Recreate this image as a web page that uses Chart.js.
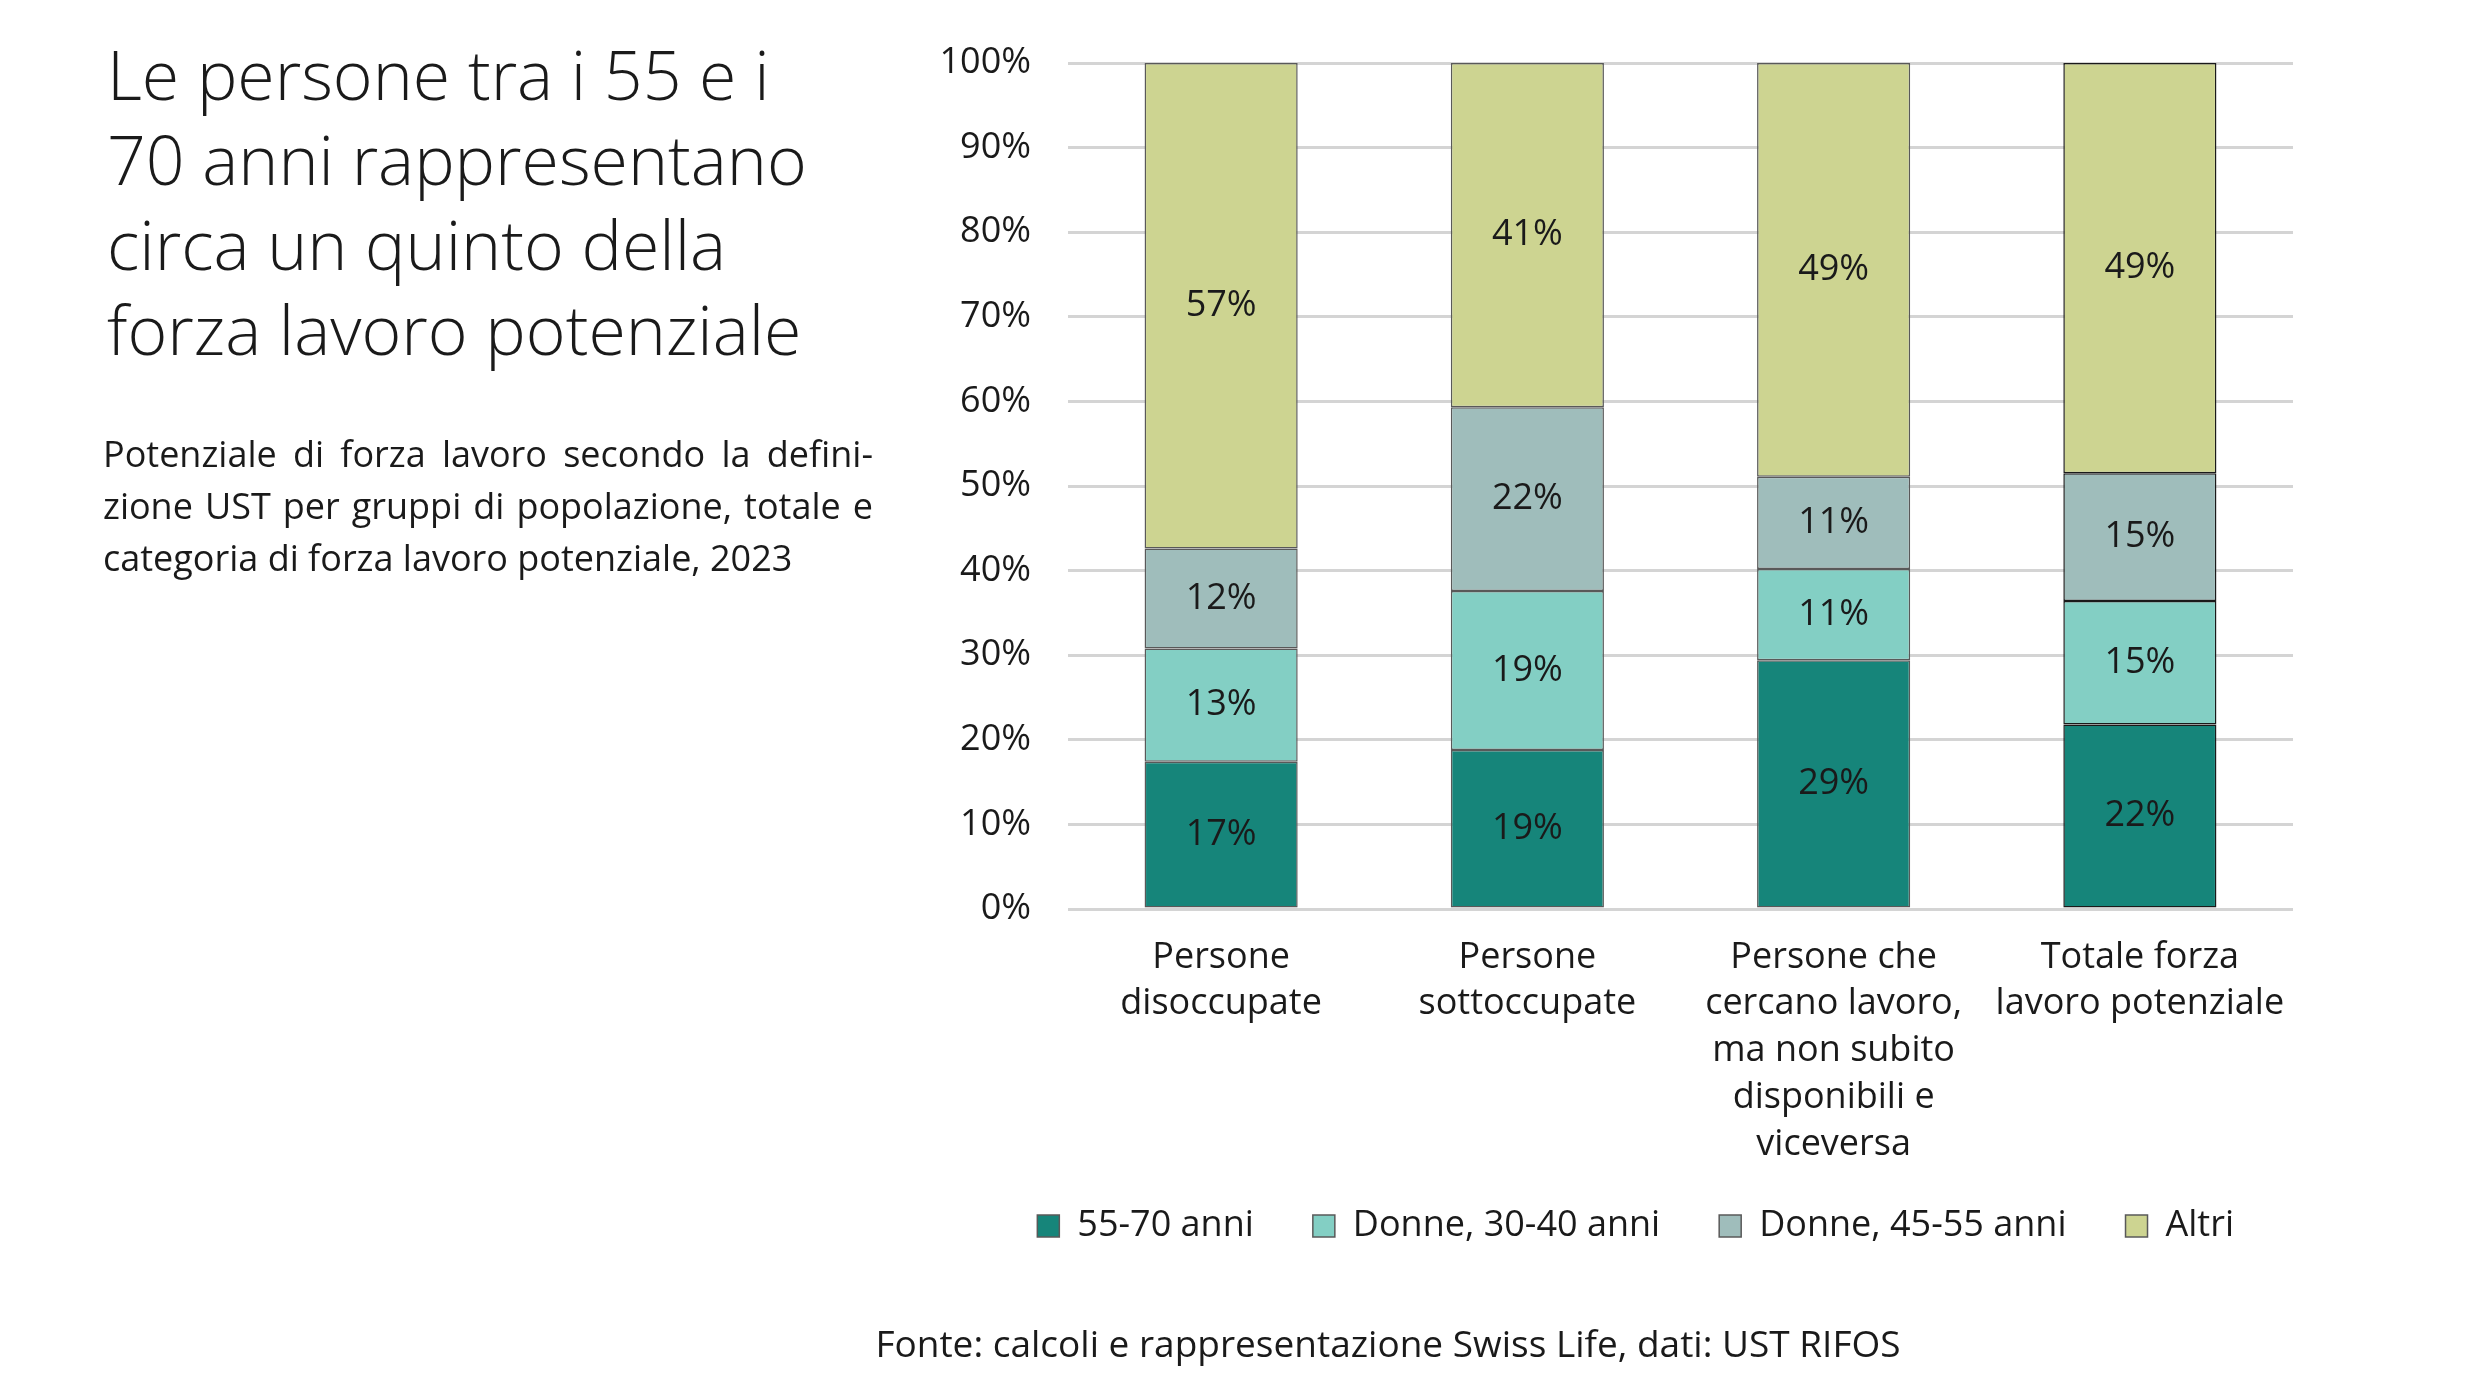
<!DOCTYPE html>
<html>
<head>
<meta charset="utf-8">
<script src="https://cdn.jsdelivr.net/npm/chart.js@4/dist/chart.umd.min.js"></script>
<style>
  html, body { margin:0; padding:0; background:#fff; }
  body { width:2480px; height:1395px; position:relative; overflow:hidden; font-family:"Open Sans", sans-serif; color:#1a1a1a; }
  #c { position:absolute; left:0; top:0; }
  .title { position:absolute; left:107px; top:31px; font-size:68px; line-height:85px; font-weight:350; white-space:nowrap; }
  .sub { position:absolute; left:103px; width:770px; font-size:36px; line-height:52px; white-space:nowrap; }
  .j { text-align:justify; text-align-last:justify; }
  .src { position:absolute; left:0; width:2776px; text-align:center; top:1317px; font-size:37px; line-height:52px; }
</style>
</head>
<body>
<canvas id="c" width="2480" height="1395"></canvas>
<div class="title">Le persone tra i 55 e i<br>70 anni rappresentano<br>circa un quinto della<br>forza lavoro potenziale</div>
<div class="sub j" style="top:428px">Potenziale di forza lavoro secondo la defini-</div>
<div class="sub j" style="top:480px">zione UST per gruppi di popolazione, totale e</div>
<div class="sub" style="top:532px">categoria di forza lavoro potenziale, 2023</div>
<div class="src">Fonte: calcoli e rappresentazione Swiss Life, dati: UST RIFOS</div>
<script>
const categories = [
  ["Persone", "disoccupate"],
  ["Persone", "sottoccupate"],
  ["Persone che", "cercano lavoro,", "ma non subito", "disponibili e", "viceversa"],
  ["Totale forza", "lavoro potenziale"]
];
const seriesNames = ["55-70 anni", "Donne, 30-40 anni", "Donne, 45-55 anni", "Altri"];
const anni5570 = [17.4, 18.8, 29.4, 21.8];
const donne3040 = [13.4, 18.8, 10.8, 14.6];
const donne4555 = [11.8, 21.7, 10.9, 15.1];
const altri = [57.4, 40.7, 48.9, 48.5];
const yTicks = [0, 10, 20, 30, 40, 50, 60, 70, 80, 90, 100];

const colors = ["#16857A", "#83CFC4", "#9FBDBB", "#CDD491"];
const borders = ["#595959", "#595959", "#595959", "#1a1a1a"];
const FONT = "'Open Sans', sans-serif";

const seriesData = [anni5570, donne3040, donne4555, altri];
const datasets = seriesData.map((d, i) => ({
  label: seriesNames[i],
  data: d,
  backgroundColor: colors[i],
  borderColor: borders,
  borderWidth: 1.5,
  borderSkipped: false,
  categoryPercentage: 1,
  barPercentage: 0.5
}));

const barLabels = {
  id: 'barLabels',
  afterDatasetsDraw(chart) {
    const ctx = chart.ctx;
    ctx.save();
    ctx.font = "36px " + FONT;
    ctx.fillStyle = "#1a1a1a";
    ctx.textAlign = "center";
    ctx.textBaseline = "middle";
    chart.data.datasets.forEach((ds, di) => {
      const meta = chart.getDatasetMeta(di);
      meta.data.forEach((el, i) => {
        const v = ds.data[i];
        const yc = (el.y + el.base) / 2;
        ctx.fillText(Math.round(v) + "%", el.x, yc);
      });
    });
    ctx.restore();
  }
};

// move the legend row up a little so it sits where the reference has it
const legendShift = {
  id: 'legendShift',
  afterLayout(chart) {
    const lg = chart.legend;
    if (lg) { lg.top -= 25; lg.bottom -= 25; }
  }
};

new Chart(document.getElementById('c'), {
  type: 'bar',
  data: { labels: categories, datasets },
  options: {
    responsive: false,
    animation: false,
    devicePixelRatio: 1,
    layout: { padding: { left: 900, right: 187, top: 63, bottom: 116 } },
    plugins: {
      legend: {
        position: 'bottom',
        align: 'end',
        labels: {
          font: { family: FONT, size: 36 },
          color: "#1a1a1a",
          boxWidth: 22,
          boxHeight: 22,
          padding: 59
        }
      },
      tooltip: { enabled: false }
    },
    scales: {
      x: {
        stacked: true,
        grid: { display: false, drawTicks: false },
        border: { display: false },
        ticks: {
          font: { family: FONT, size: 36, lineHeight: 1.3 },
          color: "#1a1a1a",
          padding: 25,
          maxRotation: 0,
          autoSkip: false
        },
        afterFit(s) { s.height = 265; }
      },
      y: {
        stacked: true,
        min: 0,
        max: 100,
        grid: { color: "#D4D4D4", lineWidth: 3, drawTicks: false },
        border: { display: false },
        afterBuildTicks(s) { s.ticks = yTicks.map(v => ({ value: v })); },
        ticks: {
          font: { family: FONT, size: 36 },
          color: "#1a1a1a",
          padding: 37,
          callback: v => v + "%"
        },
        afterFit(s) { s.width = 168; }
      }
    }
  },
  plugins: [barLabels, legendShift]
});
</script>
</body>
</html>
